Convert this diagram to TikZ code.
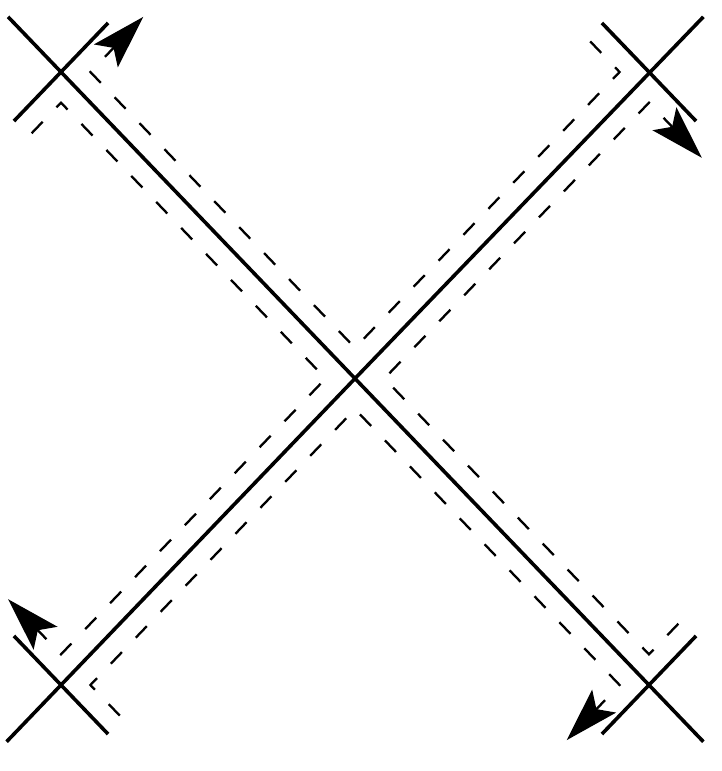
\documentclass[tikz,border=0pt]{standalone}
\usetikzlibrary{arrows.meta}
\tikzset
{
    armline/.style  = {line width=3.6pt},
    crossbar/.style = {line width=3.6pt},
    flow/.style     = {line width=2.3pt, dash pattern=on 16pt off 20pt, -{Stealth[length=54pt, width=33pt, inset=11pt]}}
}
\begin{document}
\begin{tikzpicture}[x=294pt, y=306.5pt]
\useasboundingbox (-1.2075,-1.2806) rectangle (1.245,1.235);
\coordinate (tl) at (-1,1);
\coordinate (tr) at (1,1);
\coordinate (bl) at (-1,-1);
\coordinate (br) at (1,-1);
\coordinate (c) at (0,0);
\draw [armline] (-1.18,1.18) -- (c) -- (1.185,-1.185);
\draw [armline] (-1.185,-1.185) -- (c) -- (1.185,1.18);
\draw [crossbar] (tl) ++(-0.16,-0.16) -- ++(0.32,0.32);
\draw [crossbar] (tr) ++(-0.16,0.16) -- ++(0.32,-0.32);
\draw [crossbar] (bl) ++(-0.16,0.16) -- ++(0.32,-0.32);
\draw [crossbar] (br) ++(-0.16,-0.16) -- ++(0.32,0.32);
\draw [flow] (-1.1,0.8) -- (-1,0.9) -- (-0.1,0) -- (-1,-0.9) -- (-1.18,-0.72);
\draw [flow] (0.8,1.1) -- (0.9,1) -- (0,0.1) -- (-0.9,1) -- (-0.72,1.18);
\draw [flow] (1.1,-0.8) -- (1,-0.9) -- (0.1,0) -- (1,0.9) -- (1.18,0.72);
\draw [flow] (-0.8,-1.1) -- (-0.9,-1) -- (0,-0.1) -- (0.9,-1) -- (0.72,-1.18);
\end{tikzpicture}
\end{document}
